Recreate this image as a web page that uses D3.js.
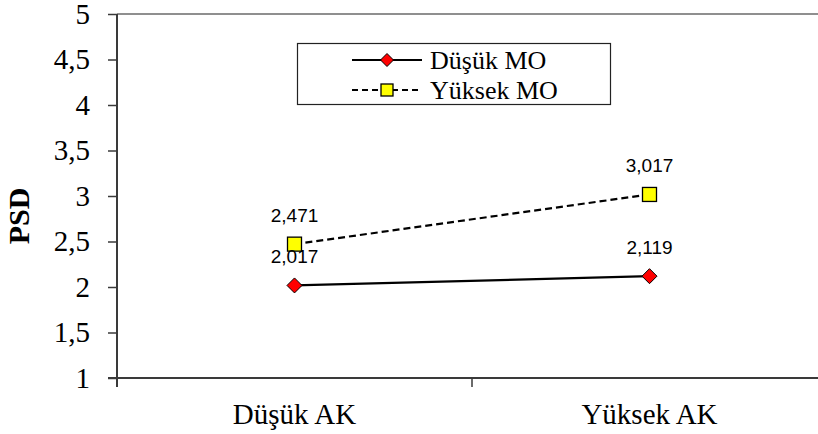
<!DOCTYPE html>
<html>
<head>
<meta charset="utf-8">
<script src="https://cdn.jsdelivr.net/npm/d3@7"></script>
</head>
<body style="margin:0">
<svg id="fig" width="818" height="434" style="font-family: Times New Roman"></svg>
<script>
// Categories on the x axis
const categories = ["Düşük AK", "Yüksek AK"];
// Series values (PSD means)
const dusukMO = [2.017, 2.119];
const yuksekMO = [2.471, 3.017];
// Series names
const seriesNames = ["Düşük MO", "Yüksek MO"];
// Y tick values and labels
const yTicks = [1, 1.5, 2, 2.5, 3, 3.5, 4, 4.5, 5];
const yTickLabels = ["1", "1,5", "2", "2,5", "3", "3,5", "4", "4,5", "5"];

const svg = d3.select("#fig");
const W = 818, H = 434;
const plotLeft = 117, plotTop = 14, plotBottom = 378;
const bandW = 355;

const x = d3.scaleBand().domain(categories).range([plotLeft, plotLeft + bandW * categories.length]).padding(0);
const y = d3.scaleLinear().domain([1, 5]).range([plotBottom, plotTop]);
const cx = c => x(c) + x.bandwidth() / 2;
const fmt = v => String(v).replace(".", ",");

// Serif text inherits the family set on the svg element
function serifText(sel, size) {
  return sel.style("font-size", size + "px");
}
function sansText(sel, size) {
  return sel.style("font-family", "Arial").style("font-size", size + "px");
}

// Top frame line of the plot area
svg.append("line")
  .attr("x1", plotLeft).attr("x2", W)
  .attr("y1", y(5)).attr("y2", y(5))
  .attr("stroke", "#8f8f8f").attr("stroke-width", 2);

// Y axis
const yAxis = d3.axisLeft(y)
  .tickValues(yTicks)
  .tickFormat((d, i) => yTickLabels[i])
  .tickSize(9)
  .tickPadding(18);
const gy = svg.append("g").attr("transform", `translate(${plotLeft},0)`).call(yAxis);
gy.attr("font-family", null).attr("font-size", null);
gy.select(".domain").attr("stroke", "#3a3a3a").attr("stroke-width", 2)
  .attr("d", `M0,${plotBottom + 9}V${plotTop}`);
gy.selectAll(".tick line").attr("stroke", "#3a3a3a").attr("stroke-width", 1.5);
serifText(gy.selectAll(".tick text"), 29).attr("fill", "#000");

// X axis line and category boundary ticks
svg.append("line")
  .attr("x1", plotLeft - 9).attr("x2", W)
  .attr("y1", plotBottom).attr("y2", plotBottom)
  .attr("stroke", "#3a3a3a").attr("stroke-width", 2);
const boundaries = categories.map(c => x(c)).concat([x.range()[1]]);
svg.append("g").selectAll("line").data(boundaries).join("line")
  .attr("x1", d => d).attr("x2", d => d)
  .attr("y1", plotBottom).attr("y2", plotBottom + 9)
  .attr("stroke", "#3a3a3a").attr("stroke-width", 1.5);

// Category labels
serifText(svg.append("g").selectAll("text").data(categories).join("text"), 29)
  .attr("x", d => cx(d)).attr("y", 424)
  .attr("text-anchor", "middle")
  .text(d => d);

// Y axis title
serifText(svg.append("text"), 30)
  .attr("transform", `translate(29,${(plotTop + plotBottom) / 2 + 20}) rotate(-90)`)
  .attr("text-anchor", "middle")
  .style("font-weight", "bold")
  .text("PSD");

const line = d3.line().x((d, i) => cx(categories[i])).y(d => y(d));

// Yüksek MO: dashed line with yellow squares
svg.append("path").datum(yuksekMO)
  .attr("d", line).attr("fill", "none")
  .attr("stroke", "#000").attr("stroke-width", 2.2)
  .attr("stroke-dasharray", "7,4");
// Düşük MO: solid line with red diamonds
svg.append("path").datum(dusukMO)
  .attr("d", line).attr("fill", "none")
  .attr("stroke", "#000").attr("stroke-width", 2.2);

function diamond(g, px, py, r) {
  g.append("path")
    .attr("d", `M${px},${py - r}L${px + r},${py}L${px},${py + r}L${px - r},${py}Z`)
    .attr("fill", "#ff0000").attr("stroke", "#000").attr("stroke-width", 1);
}
function square(g, px, py, s) {
  g.append("rect")
    .attr("x", px - s / 2).attr("y", py - s / 2)
    .attr("width", s).attr("height", s)
    .attr("fill", "#ffff00").attr("stroke", "#000").attr("stroke-width", 1.3);
}

const marks = svg.append("g");
yuksekMO.forEach((v, i) => square(marks, cx(categories[i]), y(v), 14));
dusukMO.forEach((v, i) => diamond(marks, cx(categories[i]), y(v), 7.5));

// Value labels
const labels = svg.append("g").attr("text-anchor", "middle");
[dusukMO, yuksekMO].forEach(series => {
  series.forEach((v, i) => {
    sansText(labels.append("text"), 19)
      .attr("x", cx(categories[i])).attr("y", y(v) - 22)
      .text(fmt(v));
  });
});

// Legend
const lg = svg.append("g");
lg.append("rect")
  .attr("x", 297.5).attr("y", 43.5).attr("width", 313).attr("height", 61)
  .attr("fill", "#fff").attr("stroke", "#222").attr("stroke-width", 1.2);
const legendRows = [60, 90];
lg.append("line").attr("x1", 352).attr("x2", 422).attr("y1", legendRows[0]).attr("y2", legendRows[0])
  .attr("stroke", "#000").attr("stroke-width", 2.2);
diamond(lg, 387, legendRows[0], 6.5);
lg.append("line").attr("x1", 352).attr("x2", 422).attr("y1", legendRows[1]).attr("y2", legendRows[1])
  .attr("stroke", "#000").attr("stroke-width", 2.2).attr("stroke-dasharray", "6,4");
square(lg, 387, legendRows[1], 12);
serifText(lg.selectAll("text").data(seriesNames).join("text"), 26)
  .attr("x", 430).attr("y", (d, i) => legendRows[i] + 9)
  .text(d => d);
</script>
</body>
</html>
